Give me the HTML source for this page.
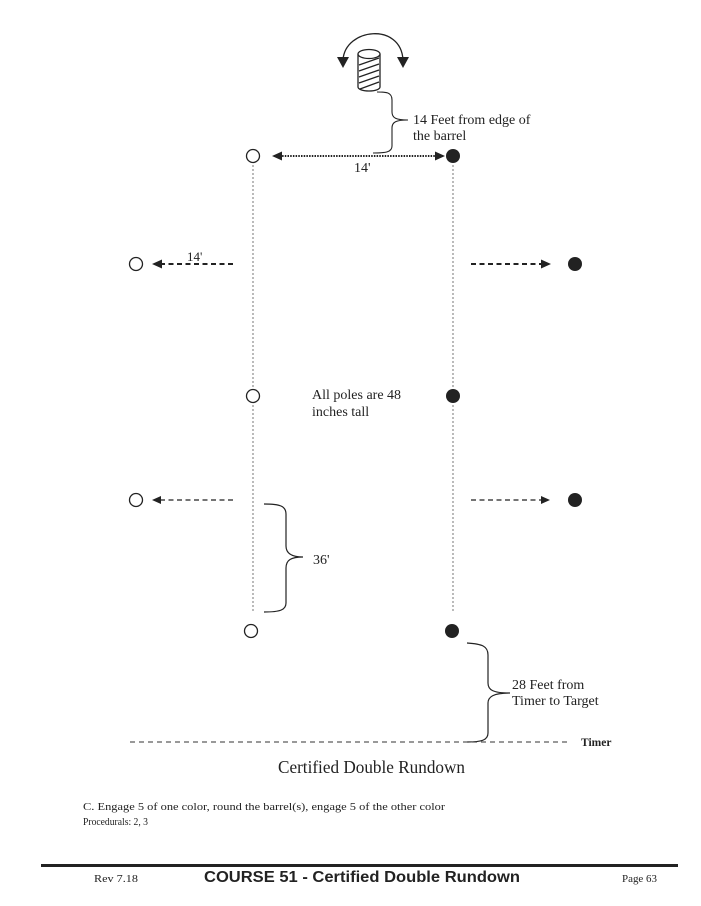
<!DOCTYPE html>
<html><head><meta charset="utf-8">
<style>
html,body{margin:0;padding:0;background:#fff;}
svg{display:block;}
.s{font-family:"Liberation Serif",serif;fill:#222;}
</style></head>
<body>
<svg width="701" height="906" viewBox="0 0 701 906" xmlns="http://www.w3.org/2000/svg">
<rect width="701" height="906" fill="#fff"/>

<!-- barrel -->
<g stroke="#222" stroke-width="1.3" fill="none">
  <path d="M343,60 C345,28 401,22 403,60"/>
  <path d="M358,54 L358,87 A11,4 0 0 0 380,87 L380,54"/>
  <ellipse cx="369" cy="54" rx="11" ry="4.5" fill="#fff"/>
  <line x1="359" y1="65" x2="379" y2="58"/>
  <line x1="359" y1="71" x2="379" y2="64"/>
  <line x1="359" y1="77" x2="379" y2="70"/>
  <line x1="359" y1="83" x2="379" y2="76"/>
  <line x1="360" y1="89" x2="379" y2="82"/>
</g>
<path d="M337,57 L349,57 L343,68 z" fill="#222"/>
<path d="M397,57 L409,57 L403,68 z" fill="#222"/>

<!-- barrel brace -->
<path d="M377,92 C386,92 392,92 392,100 L392,112 C392,118 396,120 408,120 M392,128 C392,122 396,120 408,120 M392,128 L392,146 C392,152 386,153 373,153" stroke="#222" stroke-width="1.1" fill="none"/>
<text class="s" x="413" y="124" font-size="14">14 Feet from edge of</text>
<text class="s" x="413" y="140" font-size="14">the barrel</text>

<!-- vertical dotted lines -->
<line x1="253" y1="165" x2="253" y2="612" stroke="#555" stroke-width="0.8" stroke-dasharray="2,2"/>
<line x1="453" y1="165" x2="453" y2="612" stroke="#555" stroke-width="0.8" stroke-dasharray="2,2"/>

<!-- row 1 -->
<circle cx="253" cy="156" r="6.5" fill="#fff" stroke="#222" stroke-width="1.3"/>
<circle cx="453" cy="156" r="7" fill="#222"/>
<line x1="274" y1="156" x2="443" y2="156" stroke="#222" stroke-width="2" stroke-dasharray="1.5,1.2"/>
<path d="M272,156 L282,151.5 L282,160.5 z" fill="#222"/>
<path d="M445,156 L435,151.5 L435,160.5 z" fill="#222"/>
<text class="s" x="354" y="172" font-size="14">14'</text>

<!-- row 2 -->
<circle cx="136" cy="264" r="6.5" fill="#fff" stroke="#222" stroke-width="1.3"/>
<line x1="160" y1="264" x2="234" y2="264" stroke="#222" stroke-width="2" stroke-dasharray="5,3.5"/>
<path d="M152,264 L162,259.5 L162,268.5 z" fill="#222"/>
<text class="s" x="187" y="261" font-size="13">14'</text>
<line x1="471" y1="264" x2="543" y2="264" stroke="#222" stroke-width="2" stroke-dasharray="5,3.5"/>
<path d="M551,264 L541,259.5 L541,268.5 z" fill="#222"/>
<circle cx="575" cy="264" r="7" fill="#222"/>

<!-- row 3 -->
<circle cx="253" cy="396" r="6.5" fill="#fff" stroke="#222" stroke-width="1.3"/>
<circle cx="453" cy="396" r="7" fill="#222"/>
<text class="s" x="312" y="399" font-size="14">All poles are 48</text>
<text class="s" x="312" y="416" font-size="14">inches tall</text>

<!-- row 4 -->
<circle cx="136" cy="500" r="6.5" fill="#fff" stroke="#222" stroke-width="1.3"/>
<line x1="160" y1="500" x2="234" y2="500" stroke="#222" stroke-width="1.2" stroke-dasharray="5,3.5"/>
<path d="M152,500 L161,496 L161,504 z" fill="#222"/>
<line x1="471" y1="500" x2="543" y2="500" stroke="#222" stroke-width="1.2" stroke-dasharray="5,3.5"/>
<path d="M550,500 L541,496 L541,504 z" fill="#222"/>
<circle cx="575" cy="500" r="7" fill="#222"/>

<!-- 36' brace -->
<path d="M264,504 C280,504 286,506 286,514 L286,546 C286,553 291,557 303,557 M286,568 C286,560 291,557 303,557 M286,568 L286,603 C286,610 280,612 264,612" stroke="#222" stroke-width="1.2" fill="none"/>
<text class="s" x="313" y="564" font-size="14">36'</text>

<!-- row 5 -->
<circle cx="251" cy="631" r="6.5" fill="#fff" stroke="#222" stroke-width="1.3"/>
<circle cx="452" cy="631" r="7" fill="#222"/>

<!-- 28' brace -->
<path d="M467,643 C482,644 488,646 488,655 L488,683 C488,690 493,693 510,693 M488,703 C488,697 493,693 510,693 M488,703 L488,733 C488,740 482,742 467,742" stroke="#222" stroke-width="1.2" fill="none"/>
<text class="s" x="512" y="689" font-size="14">28 Feet from</text>
<text class="s" x="512" y="705" font-size="14">Timer to Target</text>

<!-- timer line -->
<line x1="130" y1="742" x2="568" y2="742" stroke="#333" stroke-width="1" stroke-dasharray="5,4"/>
<text class="s" x="581" y="746" font-size="11.5" font-weight="bold">Timer</text>

<text class="s" x="278" y="773" font-size="18" textLength="187" lengthAdjust="spacingAndGlyphs">Certified Double Rundown</text>

<text class="s" x="83" y="810" font-size="11" textLength="362" lengthAdjust="spacingAndGlyphs">C. Engage 5 of one color, round the barrel(s), engage 5 of the other color</text>
<text class="s" x="83" y="825" font-size="11" textLength="65" lengthAdjust="spacingAndGlyphs">Procedurals:  2, 3</text>

<!-- footer -->
<rect x="41" y="864" width="637" height="3" fill="#222"/>
<text class="s" x="94" y="882" font-size="11" textLength="44" lengthAdjust="spacingAndGlyphs">Rev 7.18</text>
<text x="204" y="882" font-family="Liberation Sans, sans-serif" font-weight="bold" font-size="16" fill="#222" textLength="316" lengthAdjust="spacingAndGlyphs">COURSE 51 - Certified Double Rundown</text>
<text class="s" x="622" y="882" font-size="11" textLength="35" lengthAdjust="spacingAndGlyphs">Page 63</text>
</svg>
</body></html>
